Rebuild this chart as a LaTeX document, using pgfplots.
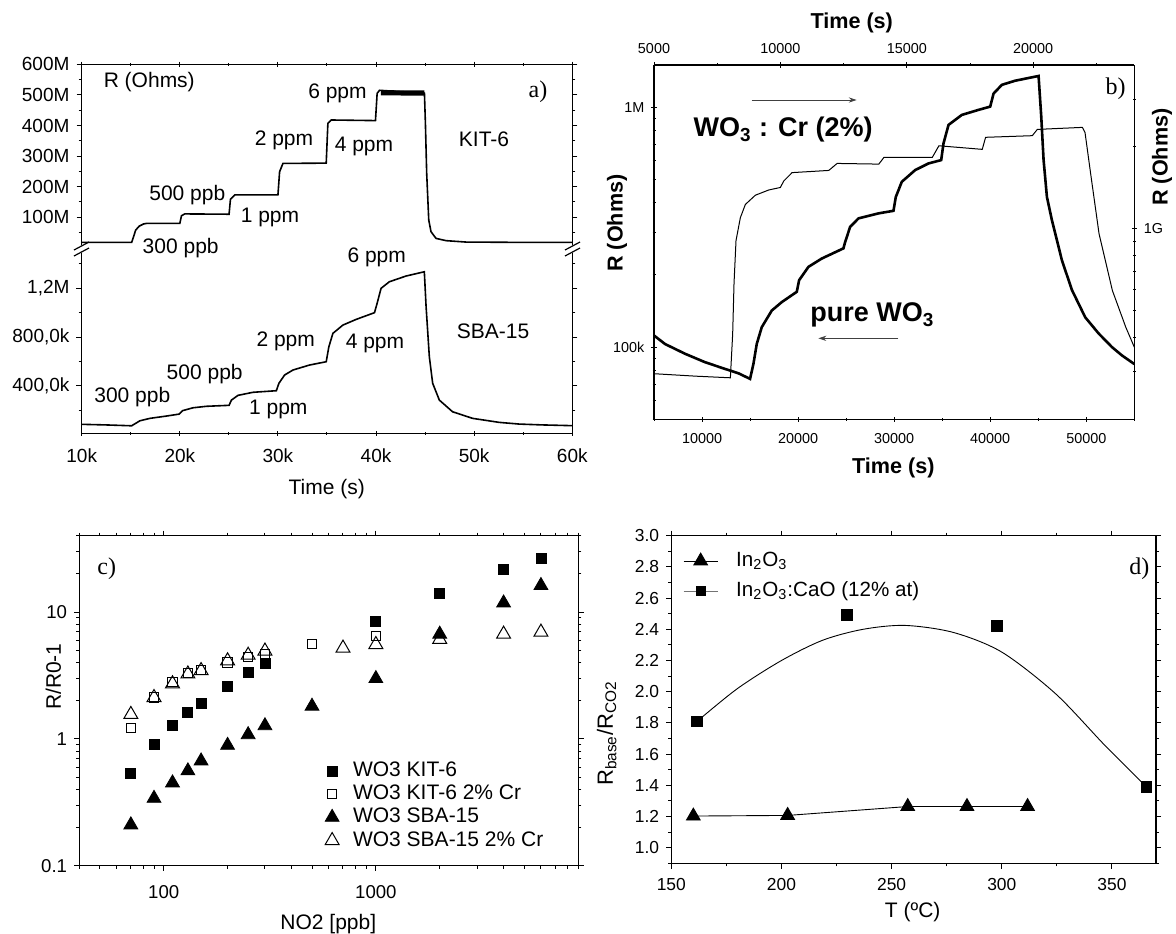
\documentclass[border=0pt]{standalone}
\usepackage{pgfplots}
\pgfplotsset{compat=1.18}
\usepackage{fontspec}
\setmainfont{Liberation Sans}
\newfontfamily\serif{Liberation Serif}
\usetikzlibrary{arrows.meta}

\newcommand\fs[1]{\fontsize{#1}{#1}\selectfont}

\pgfplotsset{
  every axis/.append style={
    scale only axis,
    every tick/.style={black,line width=0.5pt},
    major tick length=2.6pt, minor tick length=1.5pt,
    tick align=outside,
    scaled x ticks=false, scaled y ticks=false,
  },
  nolines/.style={axis line style={line width=0.6pt,-},
    x axis line style={-}, y axis line style={-}},
}

\begin{document}
\begin{tikzpicture}
\path[use as bounding box] (0pt,0pt) rectangle (588pt,-466.5pt);

% ---------- a) top: KIT-6 ----------
\begin{axis}[at={(40.85pt,-32.15pt)}, anchor=north west,
  width=245.3pt, height=90.25pt,
  xmin=10000, xmax=60000, ymin=10, ymax=600,
  axis x line=top, axis y line=box,
  xtick={10000,20000,...,60000}, xticklabels={},
  minor xtick={15000,25000,...,55000},
  ytick={100,200,...,600}, yticklabels={100M,200M,300M,400M,500M,600M},
  minor ytick={50,150,...,550},
  tick label style={font=\fs{9.5}},
  nolines,
]
\addplot[black, line width=0.8pt] coordinates {
 (10000,18)(15090,18)(15300,38)(15500,58)(15860,71)(16300,78)(16610,80)(20000,80)
 (20170,105)(20500,111)(25020,110)(25160,159)(25600,173)(30000,173)(30170,249)
 (30510,276)(34920,277)(35090,407)(35440,418)(39940,416)(40110,505)(40350,515)
 (44930,506)(45030,407)(45160,244)(45370,91)(45600,53)(46110,31)(47130,23.6)
 (49170,19)(54600,18)(60000,18)};
\addplot[black, line width=2.6pt] coordinates {(40500,507)(44930,506)};
\end{axis}

% ---------- a) bottom: SBA-15 ----------
\begin{axis}[at={(40.85pt,-126.5pt)}, anchor=north west,
  width=245.3pt, height=90.1pt,
  xmin=10000, xmax=60000, ymin=10, ymax=1490,
  axis x line=bottom, axis y line=box,
  xtick={10000,20000,...,60000}, xticklabels={10k,20k,30k,40k,50k,60k},
  minor xtick={15000,25000,...,55000},
  ytick={400,800,1200}, yticklabels={{400,0k},{800,0k},{1,2M}},
  minor ytick={200,600,1000,1400},
  tick label style={font=\fs{9.5}},
  xticklabel style={yshift=-3pt},
  nolines,
]
\addplot[black, line width=0.8pt] coordinates {
 (10000,83)(12500,78)(15090,71)(15930,112)(16950,132)(18650,151)(19930,167)(20270,195)
 (21350,219)(22720,231)(25020,239)(25260,282)(25930,321)(27460,346)(29840,359)
 (30100,420)(30680,488)(31530,529)(33220,570)(34920,597)(35190,720)(35600,830)
 (36620,898)(37980,945)(39840,1000)(40110,1077)(40510,1200)(41360,1254)(43060,1301)
 (44920,1336)(45100,1049)(45430,638)(45770,420)(46450,282)(47800,186)(49840,132)
 (52550,99)(54600,85)(57000,78)(60000,72)};
\end{axis}

% ---------- b) pure WO3 (bottom/left) ----------
\begin{axis}[at={(327pt,-32.5pt)}, anchor=north west,
  width=240.15pt, height=177.15pt,
  xmin=5000, xmax=55000, ymode=log, ymin=5e4, ymax=1.5e6,
  axis x line=bottom, axis y line=left,
  xtick={10000,20000,30000,40000,50000},
  xticklabels={10000,20000,30000,40000,50000},
  minor xtick={5000,15000,25000,35000,45000,55000},
  ytick={1e5,1e6}, yticklabels={100k,1M},
  minor ytick={5e4,6e4,7e4,8e4,9e4,2e5,3e5,4e5,5e5,6e5,7e5,8e5,9e5},
  tick label style={font=\fs{7.2}},
  xticklabel style={yshift=-2.5pt},
  nolines,
]
\addplot[black, line width=1.3pt] coordinates {
 (5000,1.118e5)(6146,1.03e5)(8229,9.38e4)(10312,8.65e4)(12396,8.11e4)(13785,7.78e4)
 (15000,7.37e4)(15347,8.5e4)(15694,1.03e5)(16215,1.21e5)(17257,1.42e5)(18299,1.54e5)
 (19861,1.70e5)(20104,1.90e5)(21076,2.16e5)(22465,2.34e5)(24722,2.58e5)(24896,2.74e5)
 (25417,3.17e5)(26285,3.44e5)(28368,3.61e5)(29931,3.70e5)(30174,4.23e5)(30799,4.89e5)
 (32188,5.47e5)(33577,5.83e5)(34896,6.02e5)(35139,7.07e5)(35660,8.44e5)(37049,9.29e5)
 (38785,9.75e5)(40000,1.006e6)(40347,1.14e6)(41215,1.24e6)(42604,1.29e6)(45035,1.35e6)
 (45313,9.14e5)(45556,6.03e5)(45903,4.23e5)(46424,3.38e5)(47465,2.30e5)(48507,1.73e5)
 (49896,1.33e5)(51285,1.14e5)(52674,1.0e5)(53715,9.23e4)(55000,8.5e4)};
\end{axis}

% ---------- b) WO3:Cr (top/right) ----------
\begin{axis}[at={(327pt,-32.5pt)}, anchor=north west,
  width=240.15pt, height=177.15pt,
  xmin=5000, xmax=24000, ymode=log, ymin=2e8, ymax=4e9,
  axis x line=top, axis y line=right,
  xtick={5000,10000,15000,20000}, xticklabels={5000,10000,15000,20000},
  minor xtick={7500,12500,17500,22500},
  ytick={1e9}, yticklabels={1G},
  minor ytick={3e8,4e8,5e8,6e8,7e8,8e8,9e8,2e9,3e9},
  tick label style={font=\fs{7.2}},
  xticklabel style={yshift=1pt},
  nolines,
]
\addplot[black, line width=0.5pt] coordinates {
 (5000,2.94e8)(6635,2.88e8)(8021,2.84e8)(8112,4.12e8)(8165,6.3e8)(8244,9.06e8)
 (8416,1.10e9)(8614,1.23e9)(9010,1.33e9)(9538,1.39e9)(10000,1.42e9)(10132,1.50e9)
 (10462,1.61e9)(11914,1.64e9)(12244,1.74e9)(13894,1.73e9)(14092,1.83e9)(16006,1.83e9)
 (16270,2.02e9)(17985,1.96e9)(18117,2.17e9)(19965,2.2e9)(20163,2.32e9)(21945,2.36e9)
 (22050,2.26e9)(22275,1.59e9)(22605,9.6e8)(23133,5.94e8)(23661,4.36e8)(24000,3.68e8)};
\end{axis}

% ---------- c) ----------
\begin{axis}[at={(39.65pt,-267.85pt)}, anchor=north west,
  width=249.5pt, height=165pt,
  xmode=log, ymode=log, xmin=40, xmax=9000, ymin=0.1, ymax=40,
  xtick={100,1000}, xticklabels={100,1000},
  minor xtick={40,50,60,70,80,90,200,300,400,500,600,700,800,900,2000,3000,4000,5000,6000,7000,8000,9000},
  ytick={0.1,1,10}, yticklabels={0.1,1,10},
  minor ytick={0.2,0.3,0.4,0.5,0.6,0.7,0.8,0.9,2,3,4,5,6,7,8,9,20,30,40},
  tick label style={font=\fs{9.3}},
  xticklabel style={yshift=-4pt},
  legend style={draw=none, fill=none, at={(0.492,0.1818)}, anchor=west,
    font=\fs{10.5}, inner sep=0pt, row sep=0pt, column sep=6pt,
    nodes={text height=7.6pt, text depth=2pt, inner sep=1pt}},
  legend cell align=left,
  nolines,
]
\addplot[only marks, mark=square*, mark size=2.5pt, black, draw opacity=0,
  mark options={draw opacity=1}] coordinates {
 (70,0.53)(90,0.91)(110,1.27)(130,1.63)(150,1.91)(200,2.61)(250,3.34)(300,3.94)
 (1000,8.38)(2000,14.0)(4000,21.8)(6000,26.5)};
\addplot[only marks, mark=square, mark size=2.3pt, black, line width=0.5pt, draw opacity=0,
  mark options={fill=white, draw opacity=1}] coordinates {
 (70,1.21)(90,2.12)(110,2.80)(130,3.30)(150,3.5)(200,4.0)(250,4.4)(300,4.7)(500,5.61)(1000,6.5)};
\addplot[only marks, mark=triangle*, mark size=4pt, black, draw opacity=0,
  mark options={draw opacity=1}] coordinates {
 (70,0.21)(90,0.34)(110,0.45)(130,0.56)(150,0.67)(200,0.89)(250,1.08)(300,1.27)
 (500,1.81)(1000,2.99)(2000,6.7)(4000,11.8)(6000,16.2)};
\addplot[only marks, mark=triangle, mark size=4pt, black, line width=0.5pt, draw opacity=0,
  mark options={fill=white, draw opacity=1}] coordinates {
 (70,1.56)(90,2.12)(110,2.72)(130,3.25)(150,3.46)(200,4.13)(250,4.57)(300,4.93)
 (700,5.2)(1000,5.55)(2000,6.1)(4000,6.7)(6000,6.95)};
\legend{WO3 KIT-6, WO3 KIT-6 2\% Cr, WO3 SBA-15, WO3 SBA-15 2\% Cr}
\end{axis}

% ---------- d) ----------
\begin{axis}[at={(335.65pt,-267.85pt)}, anchor=north west,
  width=242.35pt, height=163.8pt,
  xmin=150, xmax=370, ymin=0.9, ymax=3.0,
  xtick={150,200,250,300,350}, minor xtick={175,225,275,325},
  ytick={1.0,1.2,1.4,1.6,1.8,2.0,2.2,2.4,2.6,2.8,3.0},
  minor ytick={0.9,1.1,1.3,1.5,1.7,1.9,2.1,2.3,2.5,2.7,2.9},
  /pgf/number format/assume math mode=true,
  xticklabel style={font=\fs{8.7}, yshift=-1.5pt},
  yticklabel style={font=\fs{8.7}, /pgf/number format/.cd, fixed, fixed zerofill, precision=1},
  legend style={draw=none, fill=none, at={(0.0235,0.877)}, anchor=west,
    font=\fs{10.3}, inner sep=0pt, row sep=0pt, column sep=7pt,
    nodes={text height=8pt, text depth=3pt, inner sep=2pt}},
  legend cell align=left,
  nolines,
]
\addplot[black, line width=0.45pt, mark=triangle*, mark size=3.95pt, mark options={solid}] coordinates {
 (160,1.203)(202.8,1.207)(257.3,1.264)(284.2,1.264)(311.7,1.264)};
\addlegendentry{In\textsubscript{2}O\textsubscript{3}}
\addplot[black, line width=0.45pt, smooth, forget plot] coordinates {
 (161.7,1.81)(180,2.02)(200,2.20)(218.7,2.33)(237,2.40)(256,2.425)(278,2.38)
 (300,2.254)(324.5,1.986)(347,1.653)(365.7,1.39)};
\addplot[only marks, black, mark=square*, mark size=2.67pt, forget plot] coordinates {
 (161.7,1.81)(229.7,2.492)(297.8,2.421)(365.7,1.392)};
\addlegendimage{black!55, line width=0.5pt, mark=square*, mark size=2.3pt, mark options={black}}
\addlegendentry{In\textsubscript{2}O\textsubscript{3}:CaO (12\% at)}
\end{axis}

% ---------- text, breaks, arrows ----------
\begin{scope}[x=0.5pt,y=-0.5pt]
% break marks a)
\draw[line width=0.6pt] (74,250)--(89,242) (74,256)--(89,248);
\draw[line width=0.6pt] (565,250)--(580,242) (565,256)--(580,248);
\begin{scope}[font=\fs{10.5}]
\node[anchor=west] at (96.7,81.7) {R (Ohms)};
\node at (337.5,93.3) {6 ppm};
\node at (284,140) {2 ppm};
\node at (364,146) {4 ppm};
\node at (187.3,195) {500 ppb};
\node at (270,217.7) {1 ppm};
\node at (180.7,248.3) {300 ppb};
\node at (484,139) {KIT-6};
\node at (376.7,257.3) {6 ppm};
\node at (285.7,341) {2 ppm};
\node at (375,343.3) {4 ppm};
\node at (204.7,374.3) {500 ppb};
\node at (132.3,397.3) {300 ppb};
\node at (278.3,409.3) {1 ppm};
\node at (493,331.7) {SBA-15};
\node at (326.7,489.3) {Time (s)};
\end{scope}
\node[font=\serif\fs{12}] at (538,91.7) {a)};
% b)
\begin{scope}[font=\bfseries\fs{10.8}]
\node at (851.7,22.7) {Time (s)};
\node at (893.3,468.3) {Time (s)};
\node[rotate=90] at (617,223) {R (Ohms)};
\node[rotate=90] at (1162,157) {R (Ohms)};
\end{scope}
\node[anchor=base west, font=\bfseries\fs{13.5}, inner sep=0pt] at (693.3,136.7) {WO\textsubscript{3} : Cr (2\%)};
\node[anchor=base west, font=\bfseries\fs{13.5}, inner sep=0pt] at (810,321.7) {pure WO\textsubscript{3}};
\draw[black!75, line width=0.5pt, -{Stealth[length=4pt,width=2.6pt]}] (751.7,100) -- (856.7,100);
\draw[black!75, line width=0.5pt, -{Stealth[length=4pt,width=2.6pt]}] (898.3,338.3) -- (818.3,338.3);
\node[font=\serif\fs{12}] at (1115.7,88.3) {b)};
% c)
\node[font=\serif\fs{12}] at (106.7,568.3) {c)};
\node[font=\fs{10.5}, rotate=90] at (53.3,676.7) {R/R0-1};
\node[font=\fs{10.5}] at (328.3,924) {NO2 [ppb]};
% d)
\node[font=\serif\fs{12}] at (1139.3,568.3) {d)};
\node[font=\fs{10.5}] at (912.7,911.7) {T (ºC)};
\node[font=\fs{11}, rotate=90] at (606.7,733.3) {R\textsubscript{base}/R\textsubscript{CO2}};
\end{scope}
\end{tikzpicture}
\end{document}
